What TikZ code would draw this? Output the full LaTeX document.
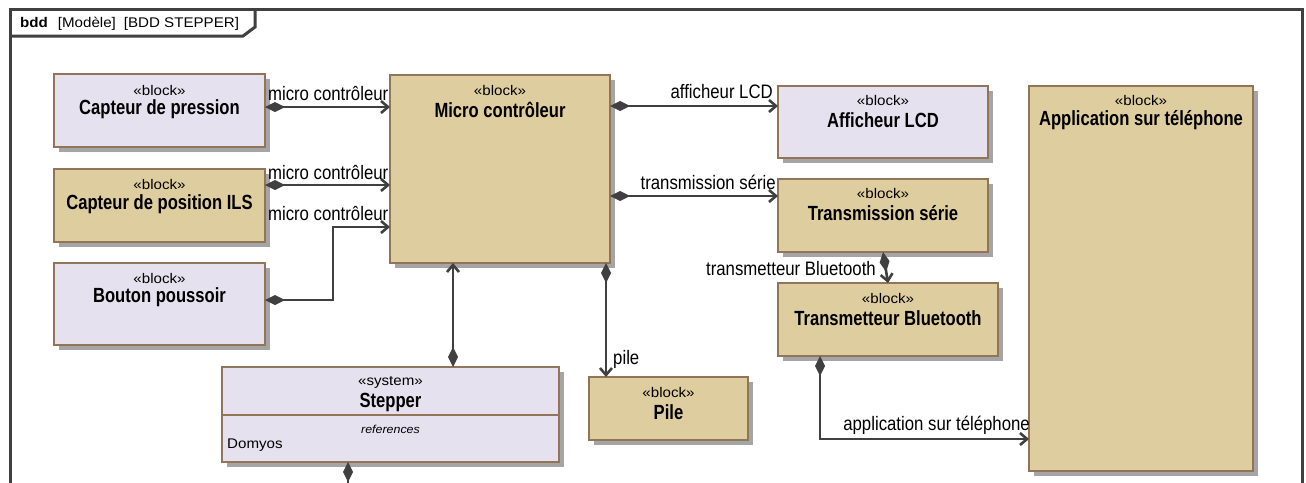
\documentclass[tikz,border=0pt]{standalone}
\usepackage{fontspec}
\setmainfont{Liberation Sans}
\newfontfamily\namefont[FakeStretch=0.81]{Liberation Sans}
\newfontfamily\labfont[FakeStretch=0.86]{Liberation Sans}
\newfontfamily\smfont[FakeStretch=1.08]{Liberation Sans}
\usetikzlibrary{arrows.meta,shadows,calc}
\definecolor{lav}{RGB}{229,225,239}
\definecolor{tanc}{RGB}{222,205,158}
\definecolor{brd}{RGB}{146,117,88}
\definecolor{shd}{RGB}{165,165,165}
\definecolor{lnc}{RGB}{64,64,64}
\tikzset{
 blk/.style={draw=brd, line width=2.8pt, anchor=north west, inner sep=0pt, outer sep=0pt,
   drop shadow={shadow xshift=4.5pt, shadow yshift=-4.5pt, fill=shd, opacity=1}},
 lavblk/.style={blk, fill=lav},
 tanblk/.style={blk, fill=tanc},
 ster/.style={font=\smfont\fontsize{14}{15}\selectfont, inner sep=0pt},
 bname/.style={font=\namefont\bfseries\fontsize{20.5}{21}\selectfont, inner sep=0pt},
 lab/.style={font=\labfont\fontsize{19.5}{20}\selectfont, inner sep=0pt},
 conn/.style={draw=lnc, line width=2.6pt,
   arrows={Diamond[length=20pt,width=10pt]-Straight Barb[length=7pt,width=12pt]}},
 connd/.style={draw=lnc, line width=2.6pt, arrows={Diamond[length=20pt,width=10pt]-}},
 frame/.style={draw=lnc, line width=3pt},
}
\begin{document}
\begin{tikzpicture}[x=1pt,y=-1pt]
\useasboundingbox (0,0) rectangle (1306,482);
\clip (0,0) rectangle (1306,482);
\fill[white] (0,0) rectangle (1306,482);

% frame
\draw[frame] (10,495) -- (10,9) -- (1302,9) -- (1302,495);
\draw[frame] (10,36) -- (243,36) -- (255,27) -- (255,9);
\node[anchor=west, inner sep=0pt, font=\smfont\fontsize{14}{15}\selectfont] (hdr) at (20,23.5)
  {\textbf{bdd}\hspace{10pt}[Modèle]\hspace{8pt}[BDD STEPPER]};

% blocks
\node[lavblk, minimum width=211pt, minimum height=73pt] (cp) at (54,74) {};
\node[tanblk, minimum width=211pt, minimum height=73pt] (ils) at (54,169) {};
\node[lavblk, minimum width=211pt, minimum height=82pt] (bp) at (54,263) {};
\node[tanblk, minimum width=220pt, minimum height=188pt] (mc) at (390,75) {};
\node[lavblk, minimum width=210pt, minimum height=72pt] (lcd) at (778,86) {};
\node[tanblk, minimum width=210pt, minimum height=73pt] (ts) at (778,179) {};
\node[tanblk, minimum width=220pt, minimum height=73pt] (tb) at (778,283) {};
\node[tanblk, minimum width=224pt, minimum height=385pt] (app) at (1029,86) {};
\node[tanblk, minimum width=159pt, minimum height=63pt] (pile) at (589,377) {};
\node[lavblk, minimum width=337pt, minimum height=95pt] (st) at (222,367) {};
\draw[draw=brd, line width=2.4pt] (st.west |- 0,415) -- (st.east |- 0,415);

% block texts
\node[ster] (cpS) at ($(cp.north)+(0,16)$) {«block»};
\node[bname] (cpN) at ($(cp.north)+(0,35)$) {Capteur de pression};
\node[ster] (ilsS) at ($(ils.north)+(0,15)$) {«block»};
\node[bname] (ilsN) at ($(ils.north)+(0,35)$) {Capteur de position ILS};
\node[ster] (bpS) at ($(bp.north)+(0,15)$) {«block»};
\node[bname] (bpN) at ($(bp.north)+(0,34)$) {Bouton poussoir};
\node[ster] (mcS) at ($(mc.north)+(0,15)$) {«block»};
\node[bname] (mcN) at ($(mc.north)+(0,35)$) {Micro contrôleur};
\node[ster] (lcdS) at ($(lcd.north)+(0,14)$) {«block»};
\node[bname] (lcdN) at ($(lcd.north)+(0,34)$) {Afficheur LCD};
\node[ster] (tsS) at ($(ts.north)+(0,14)$) {«block»};
\node[bname] (tsN) at ($(ts.north)+(0,34)$) {Transmission série};
\node[ster] (tbS) at ($(tb.north)+(0,15)$) {«block»};
\node[bname] (tbN) at ($(tb.north)+(0,35)$) {Transmetteur Bluetooth};
\node[ster] (appS) at ($(app.north)+(0,14)$) {«block»};
\node[bname] (appN) at ($(app.north)+(0,34)$) {Application sur téléphone};
\node[ster] (pileS) at ($(pile.north)+(0,15)$) {«block»};
\node[bname] (pileN) at ($(pile.north)+(0,35)$) {Pile};
\node[ster] (stS) at ($(st.north)+(0,15)$) {«system»};
\node[bname] (stN) at ($(st.north)+(0,35)$) {Stepper};
\node[ster, font=\smfont\itshape\fontsize{11.5}{12}\selectfont] (stR) at (st.north |- 0,429) {references};
\node[ster, anchor=west, font=\smfont\fontsize{14}{15}\selectfont] (stD) at (227,445) {Domyos};

% connectors
\draw[conn] (cp.east |- 0,107) -- (mc.west |- 0,107);
\draw[conn] (ils.east |- 0,185) -- (mc.west |- 0,185);
\draw[conn] (bp.east |- 0,300) -| (333,227) -- (mc.west |- 0,227);
\draw[conn] (mc.east |- 0,106) -- (lcd.west |- 0,106);
\draw[conn] (mc.east |- 0,196) -- (ts.west |- 0,196);
\draw[conn] (ts.south) -- (tb.north);
\draw[conn] (tb.south -| 820,0) |- (app.west |- 0,439);
\draw[conn] (st.north -| 453,0) -- (mc.south -| 453,0);
\draw[conn] (mc.south -| 606,0) -- (pile.north -| 606,0);
\coordinate (stout) at (348,495);
\draw[connd] (st.south -| stout) -- (stout);

% connector labels
\node[lab, anchor=east] (l1) at ([xshift=-1.5pt]mc.west |- 0,93) {micro contrôleur};
\node[lab, anchor=east] (l2) at ([xshift=-1.5pt]mc.west |- 0,172) {micro contrôleur};
\node[lab, anchor=east] (l3) at ([xshift=-1.5pt]mc.west |- 0,213) {micro contrôleur};
\node[lab, anchor=east] (l4) at ([xshift=-5pt]lcd.west |- 0,92) {afficheur LCD};
\node[lab, anchor=east] (l5) at ([xshift=-2pt]ts.west |- 0,182) {transmission série};
\node[lab, anchor=east] (l6) at (876,269) {transmetteur Bluetooth};
\node[lab, anchor=east] (l7) at ([xshift=1pt]app.west |- 0,425) {application sur téléphone};
\node[lab, anchor=west] (l8) at (613,359) {pile};
\end{tikzpicture}
\end{document}
